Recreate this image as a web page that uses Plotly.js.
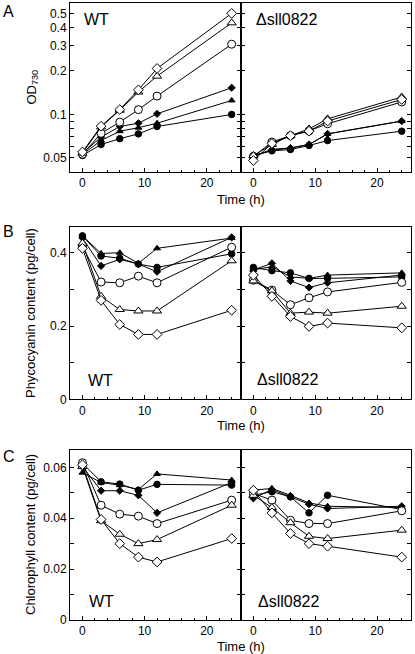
<!DOCTYPE html>
<html>
<head>
<meta charset="utf-8">
<script src="https://cdn.plot.ly/plotly-3.0.1.min.js"></script>
<style>html,body{margin:0;padding:0;background:#fff;}#chart{width:415px;height:654px;}</style>
</head>
<body>
<div id="chart"></div>
<script>
// ---- data ----
const timeH = [0, 3, 6, 9, 12, 24];
// series order: open diamond, open triangle, open circle, filled diamond, filled triangle, filled circle
const seriesNames = ['open diamond', 'open triangle', 'open circle', 'filled diamond', 'filled triangle', 'filled circle'];

const odWT = [
  [0.055, 0.083, 0.108, 0.148, 0.208, 0.50],
  [0.054, 0.082, 0.107, 0.143, 0.184, 0.43],
  [0.053, 0.074, 0.0885, 0.108, 0.134, 0.306],
  [0.054, 0.0697, 0.0826, 0.087, 0.101, 0.153],
  [0.053, 0.066, 0.0766, 0.081, 0.087, 0.125],
  [0.052, 0.062, 0.068, 0.0734, 0.0826, 0.100]
];
const odMut = [
  [0.048, 0.063, 0.0714, 0.0766, 0.090, 0.127],
  [0.052, 0.062, 0.0714, 0.0794, 0.0933, 0.132],
  [0.051, 0.0645, 0.0714, 0.077, 0.0862, 0.122],
  [0.052, 0.0565, 0.0586, 0.062, 0.0734, 0.090],
  [0.051, 0.0575, 0.0586, 0.062, 0.0734, 0.090],
  [0.052, 0.056, 0.0572, 0.061, 0.066, 0.0766]
];
const pcWT = [
  [0.412, 0.270, 0.204, 0.177, 0.177, 0.243],
  [0.426, 0.281, 0.245, 0.241, 0.241, 0.378],
  [0.417, 0.320, 0.318, 0.336, 0.318, 0.415],
  [0.440, 0.364, 0.382, 0.369, 0.348, 0.442],
  [0.446, 0.398, 0.400, 0.371, 0.412, 0.440],
  [0.446, 0.391, 0.385, 0.369, 0.360, 0.397]
];
const pcMut = [
  [0.339, 0.281, 0.226, 0.199, 0.208, 0.195],
  [0.323, 0.296, 0.235, 0.238, 0.235, 0.254],
  [0.325, 0.298, 0.258, 0.277, 0.293, 0.319],
  [0.353, 0.371, 0.323, 0.305, 0.318, 0.339],
  [0.353, 0.362, 0.334, 0.330, 0.339, 0.345],
  [0.360, 0.351, 0.345, 0.330, 0.330, 0.334]
];
const chlWT = [
  [0.061, 0.0395, 0.030, 0.0247, 0.0228, 0.032],
  [0.0603, 0.039, 0.0337, 0.030, 0.0316, 0.0451],
  [0.0618, 0.0451, 0.0416, 0.0408, 0.0379, 0.0471],
  [0.0603, 0.0508, 0.0508, 0.049, 0.0421, 0.054],
  [0.0579, 0.054, 0.053, 0.0513, 0.0574, 0.055],
  [0.0616, 0.0543, 0.0534, 0.051, 0.0533, 0.053]
];
const chlMut = [
  [0.051, 0.0421, 0.034, 0.030, 0.029, 0.0247],
  [0.049, 0.0442, 0.0382, 0.0329, 0.032, 0.0353],
  [0.0497, 0.0471, 0.0392, 0.0379, 0.0379, 0.0429],
  [0.0478, 0.0513, 0.0484, 0.0455, 0.0438, 0.0447],
  [0.051, 0.0517, 0.049, 0.046, 0.0447, 0.0442],
  [0.049, 0.0504, 0.0484, 0.0421, 0.049, 0.0434]
];

const xTickVals = [0, 10, 20];
const xTickText = ['0', '10', '20'];
const xMinorVals = [2, 4, 6, 8, 12, 14, 16, 18, 22, 24];
const odTickVals = [0.05, 0.1, 0.2, 0.3, 0.4, 0.5];
const odTickText = ['0.05', '0.1', '0.2', '0.3', '0.4', '0.5'];
const odMinorVals = [0.06, 0.07, 0.08, 0.09];
const pcTickVals = [0, 0.2, 0.4];
const pcTickText = ['0', '0.2', '0.4'];
const pcMinorVals = [0.1, 0.3];
const chlTickVals = [0, 0.02, 0.04, 0.06];
const chlTickText = ['0', '0.02', '0.04', '0.06'];
const chlMinorVals = [0.01, 0.03, 0.05];

// ---- styles ----
const FONT = 'Liberation Sans, Arial, Helvetica, sans-serif';
const styles = [
  {symbol: 'diamond', size: 7.5, color: 'white'},
  {symbol: 'triangle-up', size: 8, color: 'white'},
  {symbol: 'circle', size: 8, color: 'white'},
  {symbol: 'diamond', size: 5.5, color: 'black'},
  {symbol: 'triangle-up', size: 6, color: 'black'},
  {symbol: 'circle', size: 6.5, color: 'black'}
];

const panels = [
  {data: odWT, xa: 'x', ya: 'y'},
  {data: odMut, xa: 'x2', ya: 'y2'},
  {data: pcWT, xa: 'x3', ya: 'y3'},
  {data: pcMut, xa: 'x4', ya: 'y4'},
  {data: chlWT, xa: 'x5', ya: 'y5'},
  {data: chlMut, xa: 'x6', ya: 'y6'}
];

const traces = [];
panels.forEach(p => {
  [5, 4, 3, 2, 1, 0].forEach(i => {
    const s = styles[i];
    traces.push({
      x: timeH, y: p.data[i], xaxis: p.xa, yaxis: p.ya,
      type: 'scatter', mode: 'lines+markers', name: seriesNames[i],
      line: {color: 'black', width: 1},
      marker: {symbol: s.symbol, size: s.size, color: s.color, line: {color: 'black', width: 1}},
      showlegend: false, cliponaxis: false
    });
  });
});

const W = 415, H = 654;
const px = v => v / W;
const py = v => 1 - v / H;

const xLeft = [px(70), px(241)];
const xRight = [px(241), px(411)];
const yA = [py(172), py(3)];
const yB = [py(399.3), py(226.7)];
const yC = [py(620), py(450)];

function xax(domain, anchor) {
  return {
    domain: domain, anchor: anchor, range: [-2, 25.5],
    showline: true, linecolor: 'black', linewidth: 1, mirror: true,
    ticks: 'inside', ticklen: 4, tickwidth: 1, tickcolor: 'black',
    tickvals: xTickVals, ticktext: xTickText,
    minor: {tickvals: xMinorVals, ticks: 'inside', ticklen: 2, tickcolor: 'black', showgrid: false},
    showgrid: false, zeroline: false,
    tickfont: {family: FONT, size: 12, color: 'black'}
  };
}
function yax(domain, anchor, range, vals, text, minorVals, labels, type) {
  return {
    domain: domain, anchor: anchor, range: range, type: type || 'linear',
    showline: true, linecolor: 'black', linewidth: 1, mirror: 'ticks',
    ticks: 'inside', ticklen: 4, tickwidth: 1, tickcolor: 'black',
    tickvals: vals, ticktext: text, showticklabels: labels,
    minor: {tickvals: minorVals, ticks: 'inside', ticklen: 4, tickcolor: 'black', showgrid: false},
    showgrid: false, zeroline: false,
    tickfont: {family: FONT, size: 12, color: 'black'}
  };
}
const odRange = [Math.log10(0.04), Math.log10(0.59)];

function ann(text, x, y, size, opts) {
  return Object.assign({
    text: text, x: px(x), y: py(y), xref: 'paper', yref: 'paper',
    showarrow: false, xanchor: 'left', yanchor: 'middle',
    font: {family: FONT, size: size, color: 'black'}
  }, opts || {});
}

const annotations = [
  ann('A', 1, 11, 16),
  ann('B', 1, 231, 16),
  ann('C', 1, 456, 16),
  ann('WT', 82, 19, 16),
  ann('\u0394sll0822', 254, 19, 16),
  ann('WT', 86, 380, 16),
  ann('\u0394sll0822', 255, 379, 16),
  ann('WT', 87, 601, 16),
  ann('\u0394sll0822', 256, 601, 16),
  ann('Time (h)', 241, 199, 13, {xanchor: 'center'}),
  ann('Time (h)', 241, 425, 13, {xanchor: 'center'}),
  ann('Time (h)', 241, 646, 13, {xanchor: 'center'}),
  ann('OD<sub>730</sub>', 32, 87.5, 13, {xanchor: 'center', textangle: -90}),
  ann('Phycocyanin content (pg/cell)', 30, 313, 13, {xanchor: 'center', textangle: -90}),
  ann('Chlorophyll content (pg/cell)', 30, 535, 13, {xanchor: 'center', textangle: -90})
];

const layout = {
  width: W, height: H,
  margin: {l: 0, r: 0, t: 0, b: 0},
  paper_bgcolor: 'white', plot_bgcolor: 'white',
  showlegend: false,
  xaxis: xax(xLeft, 'y'),
  xaxis2: xax(xRight, 'y2'),
  xaxis3: xax(xLeft, 'y3'),
  xaxis4: xax(xRight, 'y4'),
  xaxis5: xax(xLeft, 'y5'),
  xaxis6: xax(xRight, 'y6'),
  yaxis: yax(yA, 'x', odRange, odTickVals, odTickText, odMinorVals, true, 'log'),
  yaxis2: yax(yA, 'x2', odRange, odTickVals, odTickText, odMinorVals, false, 'log'),
  yaxis3: yax(yB, 'x3', [0, 0.471], pcTickVals, pcTickText, pcMinorVals, true),
  yaxis4: yax(yB, 'x4', [0, 0.471], pcTickVals, pcTickText, pcMinorVals, false),
  yaxis5: yax(yC, 'x5', [0, 0.0668], chlTickVals, chlTickText, chlMinorVals, true),
  yaxis6: yax(yC, 'x6', [0, 0.0668], chlTickVals, chlTickText, chlMinorVals, false),
  annotations: annotations
};

Plotly.newPlot('chart', traces, layout, {staticPlot: true, displayModeBar: false});
</script>
</body>
</html>
